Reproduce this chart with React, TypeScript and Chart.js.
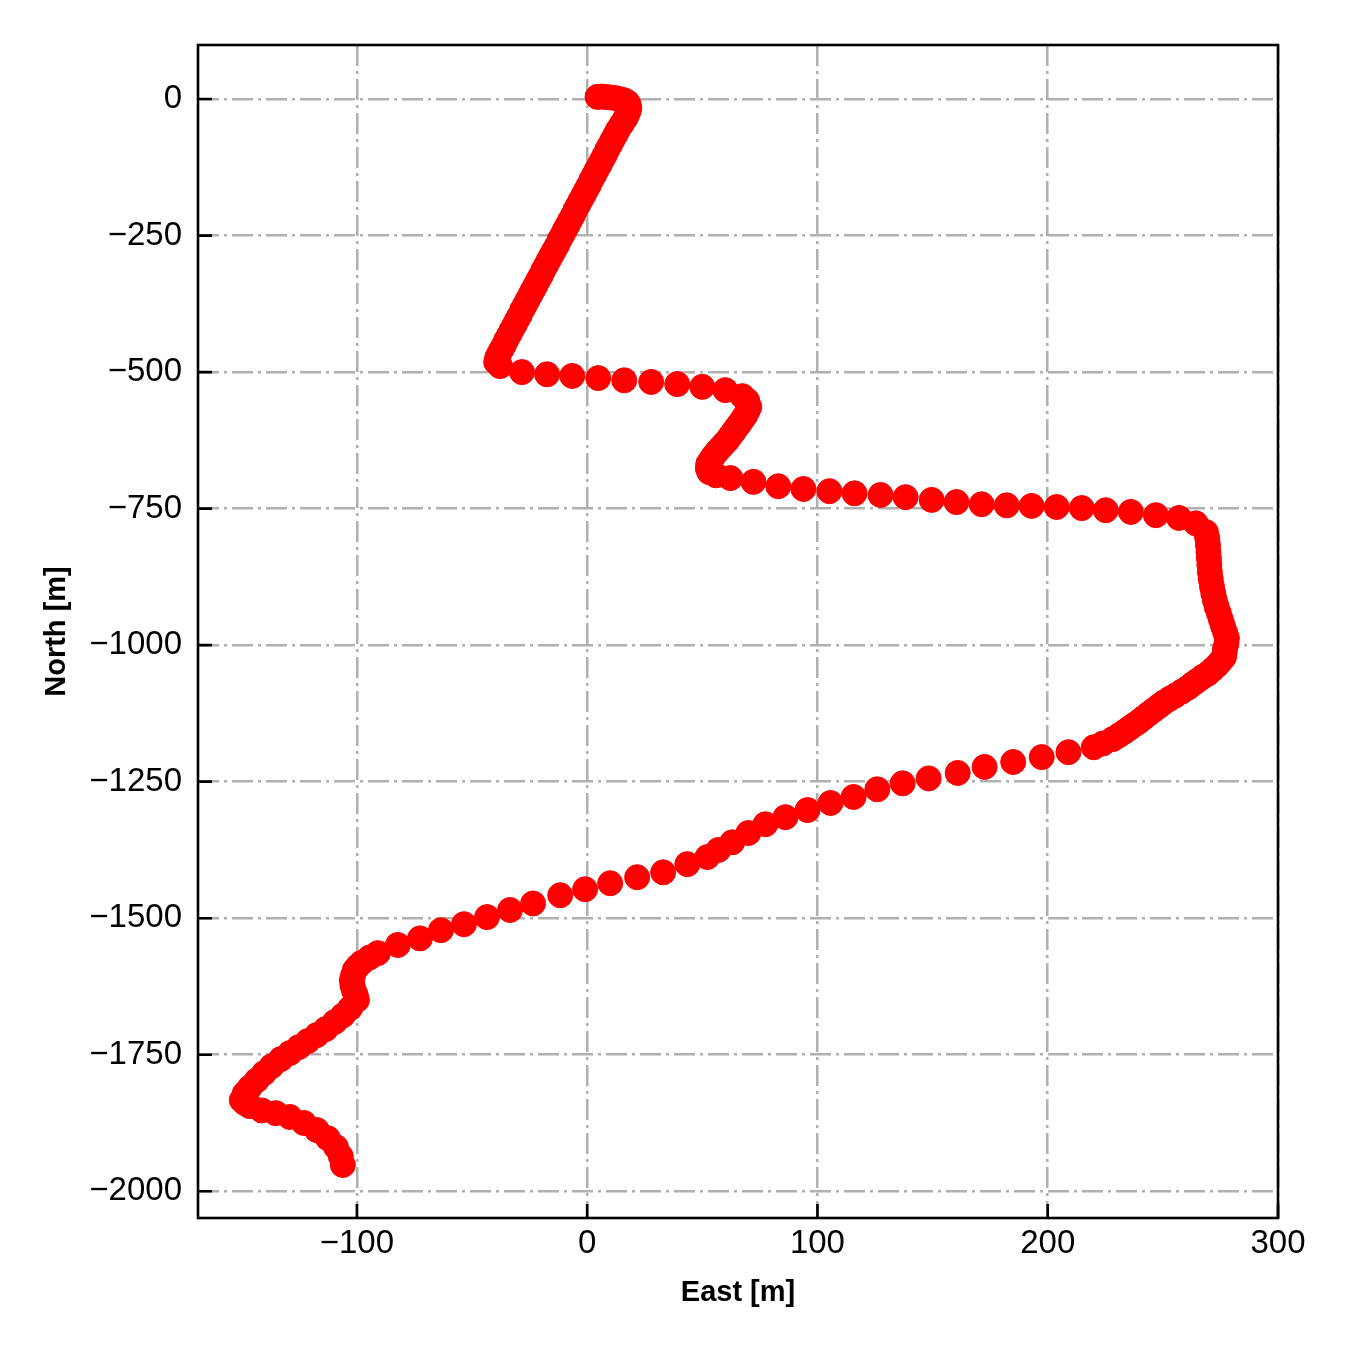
import React, { useEffect, useRef } from "react";
import { Chart, registerables } from "chart.js";

Chart.register(...registerables);

// Trajectory samples (East [m], North [m])
const east: number[] = [
  4.5, 6, 8, 10, 12, 14, 16, 17.5, 18, 18.3, 18, 17.3, 16.5, 15,
  13.3, 12.2, 11.0, 9.9, 8.7, 7.6, 6.4, 5.3, 4.1, 3.0, 1.8, 0.7, -0.5, -1.6, -2.8, -3.9, -5.1, -6.2, -7.4, -8.5, -9.7, -10.8, -12, -13.1, -14.3, -15.5, -16.7, -17.8, -19, -20.1, -21.3, -22.4, -23.6, -24.7, -25.9, -27, -28.2, -29.3, -30.5, -31.6, -32.8, -33.9, -35.1, -36.2, -37.4, -38.3, -39.1, -39.5, -37.8,
  -28.3, -17.4, -6.5, 4.8, 16.1, 27.8, 39.1, 50, 60, 67.4,
  69.5, 70.4, 69.6, 68.7, 67.4, 66.1, 64.8, 63.5, 62.2, 60.9, 59.3, 57.8, 56.3, 54.8, 53.7, 52.6, 52.4, 53, 56,
  62.2, 72.2, 83, 93.9, 105.2, 116.1, 127.4, 138.3, 149.6, 160.4, 171.3, 182.2, 193, 203.9, 214.8, 225.2, 236.1, 247, 257, 264.3, 268.7,
  269.3, 269.6, 269.8, 270, 270.2, 270.4, 270.8, 271.3, 271.9, 272.6, 273.4, 274.3, 275.2, 276.1, 277, 277.8, 277.6, 277, 276.8,
  276.5, 275, 273.5, 271.5, 269.6, 267.3, 265, 263, 260.9, 258.2, 255.5, 253, 250.4, 248.2, 246, 243.8, 241.7, 239.6, 237.5, 235.5, 233.5, 231, 228.3, 224, 220,
  209, 197.4, 185, 172.6, 160.9, 148.3, 137, 126, 115.7, 105.7, 95.7, 86.1, 77.4, 70, 63, 57, 52.2, 43.5, 33, 21.7, 10, -0.9, -11.7,
  -23.5, -33.5, -43.5, -53.5, -63.5, -72.6, -82.2, -90.9, -94.5, -97.8, -99.6, -100.9, -101.7, -102.2, -101.9, -101.3, -100.5, -100,
  -103, -106.1, -109.6, -113.5, -117.4, -121.3, -125.2, -129.1, -133, -137, -140.4, -143.5, -146.5, -148.7, -150,
  -148.5, -146.5, -141.3, -135.2, -129.1, -123, -117.4, -112.6, -109.1, -107, -106.1,
];
const north: number[] = [
  4, 4.5, 4, 3, 2, 0, -2, -6, -10, -16, -22, -29, -36, -46,
  -57, -66, -75, -84, -93, -103, -112, -121, -130, -139, -148, -158, -167, -176, -185, -194, -203, -213, -222, -231, -240, -249, -258, -268, -277, -286, -295, -304, -313, -323, -332, -341, -350, -359, -368, -377, -386, -396, -405, -414, -423, -432, -441, -451, -460, -467, -474, -482, -489,
  -500, -504, -507, -511, -515, -518, -522, -527, -533, -544,
  -552, -564, -571, -579, -587, -595, -602, -610, -617, -625, -632, -639, -646, -654, -661, -668, -676, -683, -689,
  -694, -701, -709, -714, -718, -722, -725, -729, -734, -738, -742, -744, -745, -747, -749, -753, -756, -762, -767, -777, -793,
  -805, -817, -829, -841, -853, -866, -879, -892, -905, -918, -930, -941, -953, -965, -976, -987, -997, -1007, -1015,
  -1022, -1030, -1037, -1045, -1052, -1058, -1065, -1071, -1078, -1085, -1092, -1098, -1105, -1112, -1119, -1126, -1133, -1140, -1146, -1152, -1158, -1165, -1172, -1180, -1187,
  -1196, -1205, -1214, -1223, -1234, -1244, -1253, -1264, -1278, -1289, -1302, -1315, -1328, -1344, -1361, -1375, -1388, -1401, -1416, -1425, -1436, -1447, -1458,
  -1473, -1485, -1498, -1511, -1522, -1537, -1549, -1564, -1572, -1581, -1588, -1595, -1605, -1614, -1623, -1632, -1641, -1650,
  -1665, -1678, -1690, -1703, -1714, -1725, -1736, -1747, -1758, -1771, -1784, -1797, -1810, -1821, -1833,
  -1839, -1844, -1852, -1857, -1864, -1875, -1888, -1903, -1919, -1936, -1952,
];

const xTickValues = [-100, 0, 100, 200, 300];
const xTickLabels = ["\u2212100", "0", "100", "200", "300"];
const yTickValues = [0, -250, -500, -750, -1000, -1250, -1500, -1750, -2000];
const yTickLabels = ["0", "\u2212250", "\u2212500", "\u2212750", "\u22121000", "\u22121250", "\u22121500", "\u22121750", "\u22122000"];
const xLimits = [-169, 300];
const yLimits = [-2049, 99];
const xTitle = "East [m]";
const yTitle = "North [m]";

const FONT = "'Liberation Sans', Arial, Helvetica, sans-serif";

export default function App() {
  const ref = useRef<HTMLCanvasElement>(null);

  useEffect(() => {
    if (!ref.current) return;

    const framePlugin = {
      id: "frame",
      afterDatasetsDraw(chart: any) {
        const { ctx, chartArea: a, scales } = chart;
        ctx.save();
        ctx.strokeStyle = "#000";
        ctx.lineWidth = 2.6;
        ctx.setLineDash([]);
        ctx.strokeRect(a.left, a.top, a.right - a.left, a.bottom - a.top);
        ctx.beginPath();
        xTickValues.forEach((v) => {
          const x = scales.x.getPixelForValue(v);
          ctx.moveTo(x, a.bottom);
          ctx.lineTo(x, a.bottom - 14);
        });
        yTickValues.forEach((v) => {
          const y = scales.y.getPixelForValue(v);
          ctx.moveTo(a.left, y);
          ctx.lineTo(a.left + 14, y);
        });
        ctx.stroke();
        ctx.restore();
      },
    };

    const points = east.map((e, i) => ({ x: e, y: north[i] }));

    const gridOpts = {
      color: "#b0b0b0",
      lineWidth: 2.5,
      drawTicks: false,
    };
    const borderOpts = { display: false, dash: [21, 5, 3, 5] };

    const chart = new Chart(ref.current, {
      type: "scatter",
      data: {
        datasets: [
          {
            data: points,
            backgroundColor: "#ff0000",
            borderColor: "#ff0000",
            borderWidth: 1,
            pointRadius: 12.5,
            pointHoverRadius: 12.5,
            showLine: false,
          },
        ],
      },
      options: {
        responsive: false,
        animation: false,
        devicePixelRatio: 1,
        layout: { padding: { left: 0, top: 45, right: 72, bottom: 0 } },
        plugins: { legend: { display: false }, tooltip: { enabled: false } },
        scales: {
          x: {
            type: "linear",
            min: xLimits[0],
            max: xLimits[1],
            grid: gridOpts,
            border: borderOpts,
            afterBuildTicks: (s: any) => {
              s.ticks = xTickValues.map((v) => ({ value: v }));
            },
            afterFit: (s: any) => {
              s.height = 132;
            },
            ticks: {
              color: "#000",
              padding: 6,
              font: { family: FONT, size: 33 },
              maxRotation: 0,
              callback: (v: any) => {
                const i = xTickValues.indexOf(Number(v));
                return i >= 0 ? xTickLabels[i] : "";
              },
            },
            title: {
              display: true,
              text: xTitle,
              color: "#000",
              font: { family: FONT, size: 29, weight: "bold" },
              padding: { top: 0, bottom: 40 },
            },
          },
          y: {
            type: "linear",
            min: yLimits[0],
            max: yLimits[1],
            grid: gridOpts,
            border: borderOpts,
            afterBuildTicks: (s: any) => {
              s.ticks = yTickValues.map((v) => ({ value: v }));
            },
            afterFit: (s: any) => {
              s.width = 198;
            },
            ticks: {
              color: "#000",
              padding: 16,
              font: { family: FONT, size: 33 },
              callback: (v: any) => {
                const i = yTickValues.indexOf(Number(v));
                return i >= 0 ? yTickLabels[i] : "";
              },
            },
            title: {
              display: true,
              text: yTitle,
              color: "#000",
              font: { family: FONT, size: 29, weight: "bold" },
              padding: { top: 40, bottom: 0 },
            },
          },
        },
      },
      plugins: [framePlugin],
    } as any);

    return () => chart.destroy();
  }, []);

  return (
    <div style={{ position: "fixed", left: 0, top: 0, width: 1350, height: 1350, background: "#fff" }}>
      <canvas ref={ref} width={1350} height={1350} style={{ width: 1350, height: 1350, display: "block" }} />
    </div>
  );
}
